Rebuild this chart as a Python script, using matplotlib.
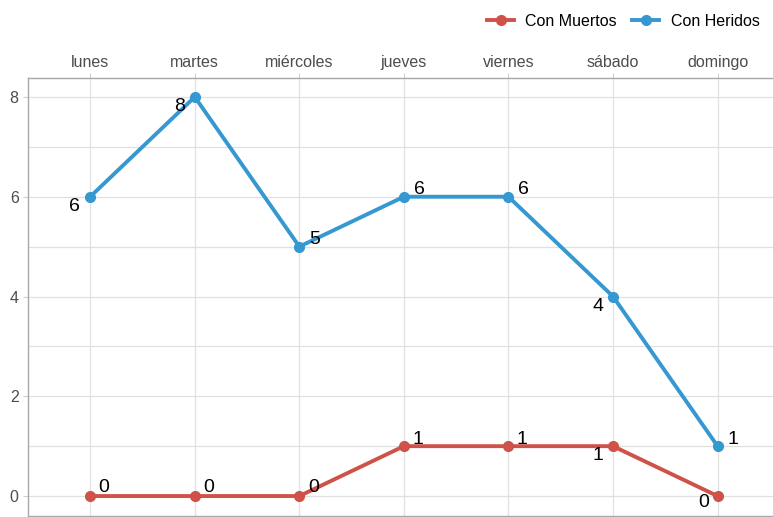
import matplotlib
matplotlib.use("Agg")
import matplotlib.pyplot as plt
from matplotlib.lines import Line2D

plt.rcParams['font.family'] = ['Liberation Sans', 'DejaVu Sans']

dias = ["lunes", "martes", "miércoles", "jueves", "viernes", "sábado", "domingo"]
muertos = [0, 0, 0, 1, 1, 1, 0]
heridos = [6, 8, 5, 6, 6, 4, 1]

color_muertos = "#cf5249"
color_heridos = "#3598d0"

# label offsets in points (dx, dy) for each value annotation
off_heridos = [(-11, -7), (-11, -7), (11, 5), (11, 5), (11, 5), (-11, -7), (11, 5)]
off_muertos = [(10, 6), (10, 6), (10, 6), (10, 5), (10, 5), (-11, -7), (-10, -5)]

fig = plt.figure(figsize=(7.73, 5.17), dpi=100)
W, H = 773, 517
left, right, top, bottom = 28, 773, 78, 516
ax = fig.add_axes([left / W, 1 - bottom / H, (right - left) / W, (bottom - top) / H])

x = list(range(len(dias)))
ax.plot(x, muertos, color=color_muertos, lw=2.8, marker="o", ms=7, zorder=3)
ax.plot(x, heridos, color=color_heridos, lw=2.8, marker="o", ms=7, zorder=3)

for xi, v, (dx, dy) in zip(x, heridos, off_heridos):
    ax.annotate(str(v), (xi, v), xytext=(dx, dy), textcoords="offset points",
                ha="center", va="center", fontsize=14, color="black", zorder=4)
for xi, v, (dx, dy) in zip(x, muertos, off_muertos):
    ax.annotate(str(v), (xi, v), xytext=(dx, dy), textcoords="offset points",
                ha="center", va="center", fontsize=14, color="black", zorder=4)

ax.set_xlim(-0.595, 6.53)
ax.set_ylim(-0.4, 8.38)
ax.set_xticks(x)
ax.set_xticklabels(dias)
ax.xaxis.tick_top()
ax.set_yticks([0, 2, 4, 6, 8])
ax.set_yticks([1, 3, 5, 7], minor=True)

ax.grid(True, which="major", color="#e0e0e0", lw=0.9, zorder=0)
ax.grid(True, which="minor", axis="y", color="#e0e0e0", lw=0.9, zorder=0)
ax.set_axisbelow(True)

ax.tick_params(axis="both", which="major", length=3.7, color="#cfcfcf",
               labelsize=11.5, labelcolor="#4d4d4d")
ax.tick_params(axis="x", which="major", pad=2)
ax.tick_params(axis="y", which="major", pad=3)
ax.tick_params(axis="y", which="minor", length=0)

for s in ["left", "bottom", "top"]:
    ax.spines[s].set_color("#a8a8a8")
    ax.spines[s].set_linewidth(1.0)
ax.spines["right"].set_visible(False)

handles = [
    Line2D([], [], color=color_muertos, lw=2.8, marker="o", ms=7),
    Line2D([], [], color=color_heridos, lw=2.8, marker="o", ms=7),
]
fig.legend(handles, ["Con Muertos", "Con Heridos"], loc="upper right",
           bbox_to_anchor=(1.0, 1.0), ncol=2, frameon=False, fontsize=11.5,
           handlelength=1.7, columnspacing=0.95, handletextpad=0.7,
           borderaxespad=0.45)

fig.savefig("out.png", dpi=100)
